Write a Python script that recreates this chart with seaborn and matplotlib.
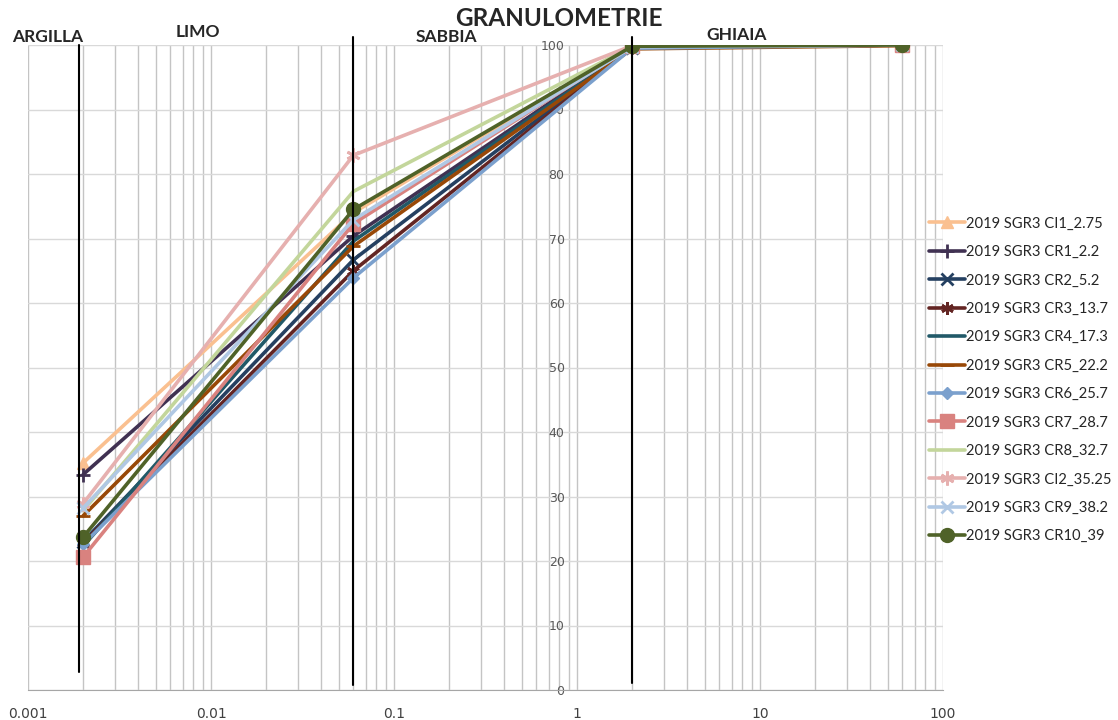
import matplotlib
matplotlib.use("Agg")
import matplotlib.pyplot as plt
import matplotlib.ticker as mticker
import seaborn as sns
import pandas as pd

# Sieve diameters (mm) and cumulative passing (%)
diameters = [0.002, 0.06, 2, 60]

series_names = [
    "2019 SGR3 CI1_2.75", "2019 SGR3 CR1_2.2", "2019 SGR3 CR2_5.2",
    "2019 SGR3 CR3_13.7", "2019 SGR3 CR4_17.3", "2019 SGR3 CR5_22.2",
    "2019 SGR3 CR6_25.7", "2019 SGR3 CR7_28.7", "2019 SGR3 CR8_32.7",
    "2019 SGR3 CI2_35.25", "2019 SGR3 CR9_38.2", "2019 SGR3 CR10_39",
]

ci1 = [35.2, 74.0, 99.8, 100]
cr1 = [33.4, 70.4, 99.7, 100]
cr2 = [23.0, 66.7, 99.6, 100]
cr3 = [22.8, 65.0, 99.6, 100]
cr4 = [22.3, 69.6, 99.6, 100]
cr5 = [27.0, 68.8, 99.4, 99.9]
cr6 = [22.6, 63.9, 99.5, 100]
cr7 = [20.6, 72.3, 99.8, 100]
cr8 = [27.8, 77.3, 99.8, 100]
ci2 = [28.9, 82.9, 99.9, 100]
cr9 = [28.2, 72.9, 99.7, 100]
cr10 = [23.7, 74.5, 99.8, 100]

values = [ci1, cr1, cr2, cr3, cr4, cr5, cr6, cr7, cr8, ci2, cr9, cr10]

colors = ["#FAC090", "#403152", "#254061", "#632523", "#215968", "#984807",
          "#7BA0CD", "#D9827F", "#C3D69B", "#E6B0AF", "#B0C8E4", "#4F6228"]
markers = ["^", "+", "x", (6, 2, 0), "", "_", "D", "s", "", (6, 2, 0), "x", "o"]
msizes = [9, 10, 8, 9, 0, 10, 6, 10, 0, 10, 9, 10]

# Grain-size class boundaries (vertical black lines)
boundary_x = [0.0019, 0.06, 2]
boundary_lo = [2.8, 0.8, 1.1]
boundary_hi = [100, 101.2, 101.2]

class_labels = ["ARGILLA", "LIMO", "SABBIA", "GHIAIA"]

x_ticks = [0.001, 0.01, 0.1, 1, 10, 100]
x_tick_labels = ["0.001", "0.01", "0.1", "1", "10", "100"]
y_ticks = list(range(0, 101, 10))

rows = []
for name, vals in zip(series_names, values):
    for d, v in zip(diameters, vals):
        rows.append({"serie": name, "d": d, "p": v})
df = pd.DataFrame(rows)

sns.set_style("white")
plt.rcParams["font.family"] = ["Lato", "DejaVu Sans"]

fig = plt.figure(figsize=(11.18, 7.2), dpi=100)
ax = fig.add_axes([28 / 1118, 30 / 720, 915 / 1118, 645 / 720])
ax.set_xscale("log")
ax.set_xlim(0.001, 100)
ax.set_ylim(0, 100)

# grid
ax.xaxis.set_major_locator(mticker.FixedLocator(x_ticks))
ax.xaxis.set_minor_locator(mticker.LogLocator(base=10, subs=range(2, 10)))
ax.xaxis.set_minor_formatter(mticker.NullFormatter())
ax.set_xticks(x_ticks)
ax.set_xticklabels(x_tick_labels)
ax.set_yticks(y_ticks)
ax.grid(True, which="major", axis="x", color="#c4c4c4", lw=1.0)
ax.grid(True, which="minor", axis="x", color="#c4c4c4", lw=1.0)
ax.grid(True, which="major", axis="y", color="#d9d9d9", lw=1.0)
ax.set_axisbelow(True)

for name, col, mk, ms in zip(series_names, colors, markers, msizes):
    sub = df[df["serie"] == name]
    kw = dict(color=col, linewidth=2.6, label=name, ax=ax, sort=False)
    if mk != "":
        kw.update(marker=mk, markersize=ms, markeredgecolor=col,
                  markerfacecolor=col, markeredgewidth=2.0 if mk in ("+", "x", "_") or isinstance(mk, tuple) else 1.0)
    sns.lineplot(data=sub, x="d", y="p", **kw)

for bx, lo, hi in zip(boundary_x, boundary_lo, boundary_hi):
    ax.plot([bx, bx], [lo, hi], color="black", lw=1.5, clip_on=False, zorder=5)

# y labels sit on the x = 1 line
ax.spines["left"].set_position(("data", 1))
ax.spines["left"].set_visible(False)
ax.spines["top"].set_visible(False)
ax.spines["right"].set_visible(False)
ax.spines["bottom"].set_color("#a6a6a6")
ax.tick_params(axis="y", length=0, pad=9, labelsize=9, labelcolor="#595959")
ax.tick_params(axis="x", which="both", length=0, pad=12, labelsize=10, labelcolor="#404040")
for lbl in ax.get_yticklabels() + ax.get_xticklabels():
    lbl.set_fontfamily(["Liberation Sans Narrow", "DejaVu Sans"])
ax.set_xlabel("")
ax.set_ylabel("")

handles, labels = ax.get_legend_handles_labels()
if ax.legend_:
    ax.legend_.remove()
fig.legend(handles[:12], labels[:12], loc="center left",
           bbox_to_anchor=(916 / 1118, 1 - 380 / 720), frameon=False,
           fontsize=10.6, handlelength=2.4, handletextpad=0.1, labelspacing=0.98)

fig.text(559 / 1118, 1 - 19 / 720, "GRANULOMETRIE", ha="center", va="center",
         fontsize=17.5, fontweight="bold")
label_pos = [(12, 37), (176, 32), (416, 37), (706, 35)]
for txt, (px, py) in zip(class_labels, label_pos):
    fig.text(px / 1118, 1 - py / 720, txt, ha="left", va="center",
             fontsize=12.5, fontweight="bold")

fig.savefig("out.png", dpi=100)
